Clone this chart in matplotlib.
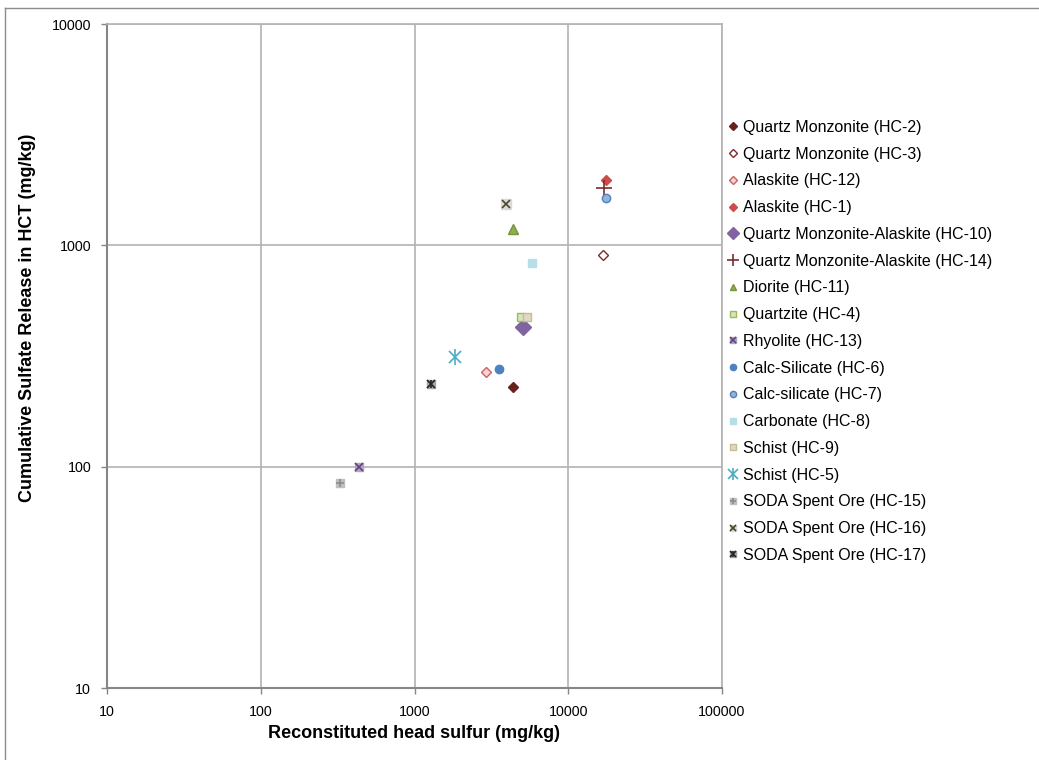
import matplotlib
matplotlib.use("Agg")
import matplotlib.pyplot as plt
from matplotlib.lines import Line2D
from matplotlib.legend_handler import HandlerTuple

plt.rcParams['font.family'] = ['Liberation Sans', 'DejaVu Sans']

labels = [
    "Quartz Monzonite (HC-2)", "Quartz Monzonite (HC-3)", "Alaskite (HC-12)",
    "Alaskite (HC-1)", "Quartz Monzonite-Alaskite (HC-10)",
    "Quartz Monzonite-Alaskite (HC-14)", "Diorite (HC-11)", "Quartzite (HC-4)",
    "Rhyolite (HC-13)", "Calc-Silicate (HC-6)", "Calc-silicate (HC-7)",
    "Carbonate (HC-8)", "Schist (HC-9)", "Schist (HC-5)",
    "SODA Spent Ore (HC-15)", "SODA Spent Ore (HC-16)", "SODA Spent Ore (HC-17)",
]
head_sulfur = [4400, 16900, 2920, 17700, 5040, 17150, 4400, 4940,
               432, 3550, 17700, 5830, 5350, 1825, 329, 3945, 1273]
sulfate_release = [230, 908, 268, 1980, 426, 1815, 1190, 476,
                   100, 275, 1630, 835, 476, 312, 84.7, 1538, 237]

# marker layers per series: (marker, size, face, edge, edgewidth)
styles = [
    [("D", 5, "#6b1f1f", "#6b1f1f", 1)],
    [("D", 5, "white", "#7b2c2c", 1)],
    [("D", 5, "#f7d4d4", "#d65c5c", 1)],
    [("D", 5, "#d04a48", "#d04a48", 1)],
    [("D", 8, "#8064a2", "#8064a2", 1)],
    [("+", 11, "#7b2c2c", "#7b2c2c", 1.2)],
    [("^", 6.5, "#8db04f", "#77933c", 1)],
    [("s", 6, "#d7e4bd", "#9bbb59", 1)],
    [("s", 6, "#b3a2c7", "#b3a2c7", 1), ("x", 5.5, "#5f497a", "#5f497a", 1.2)],
    [("o", 6, "#4f81bd", "#4f81bd", 1)],
    [("o", 6, "#95b3d7", "#4f81bd", 1)],
    [("s", 6, "#b7dee8", "#b7dee8", 1)],
    [("s", 6, "#ddd9c3", "#c4bd97", 1)],
    [("x", 9, "#4bacc6", "#4bacc6", 1.2), ("|", 12, "#4bacc6", "#4bacc6", 1.2)],
    [("s", 6, "#bfbfbf", "#bfbfbf", 1), ("+", 5.5, "#8c8c8c", "#8c8c8c", 1.2)],
    [("s", 6.5, "#d9d9d9", "#d9d9d9", 1), ("x", 5.5, "#4a452a", "#4a452a", 1.2)],
    [("s", 6, "#a6a6a6", "#a6a6a6", 1), ("x", 5.5, "#262626", "#262626", 1.2),
     ("|", 6, "#262626", "#262626", 1.2)],
]

W, H = 1039, 760
fig = plt.figure(figsize=(W / 100, H / 100), dpi=100)
ax = fig.add_axes([107.2 / W, 1 - 688 / H, (722 - 107.2) / W, (688 - 24.1) / H])

ax.set_xscale("log")
ax.set_yscale("log")
ax.set_xlim(10, 100000)
ax.set_ylim(10, 10000)

handles = []
for x, y, lab, st in zip(head_sulfur, sulfate_release, labels, styles):
    hs = []
    for (m, s, fc, ec, ew) in st:
        ax.plot([x], [y], linestyle="none", marker=m, markersize=s,
                markerfacecolor=fc, markeredgecolor=ec, markeredgewidth=ew,
                zorder=3)
        hs.append(Line2D([], [], linestyle="none", marker=m, markersize=s * 0.75,
                         markerfacecolor=fc, markeredgecolor=ec,
                         markeredgewidth=ew))
    handles.append(tuple(hs))

ax.grid(True, which="major", color="#b3b3b3", linewidth=1.2)
ax.set_axisbelow(True)
ax.minorticks_off()
ax.set_xticks([10, 100, 1000, 10000, 100000])
ax.set_xticklabels(["10", "100", "1000", "10000", "100000"])
ax.set_yticks([10, 100, 1000, 10000])
ax.set_yticklabels(["10", "100", "1000", "10000"])
ax.tick_params(axis="both", labelsize=10.3, color="#868686", length=4,
               width=1, direction="out")
ax.tick_params(axis="x", pad=8.5)
ax.tick_params(axis="y", pad=7.5)
for side in ["left", "bottom"]:
    ax.spines[side].set_color("#868686")
    ax.spines[side].set_linewidth(1.5)
for side in ["top", "right"]:
    ax.spines[side].set_color("#b3b3b3")
    ax.spines[side].set_linewidth(1.2)

fig.text(413.5 / W, 1 - 733 / H, "Reconstituted head sulfur (mg/kg)",
         fontsize=13, fontweight="bold", ha="center", va="center")
fig.text(28 / W, 1 - 318 / H, "Cumulative Sulfate Release in HCT (mg/kg)",
         fontsize=13, fontweight="bold", ha="center", va="center",
         rotation=90)

fig.legend(handles, labels, handler_map={tuple: HandlerTuple(ndivide=1, pad=0)},
           loc="upper left", bbox_to_anchor=(727.4 / W, 1 - 120 / H),
           frameon=False, fontsize=11.5, handlelength=0.7, handletextpad=0.28,
           labelspacing=0.735, borderpad=0, borderaxespad=0)

# outer chart border (top and left visible)
fig.add_artist(Line2D([5 / W, 1], [1 - 8 / H, 1 - 8 / H], color="#8c8c8c",
                      linewidth=1, transform=fig.transFigure))
fig.add_artist(Line2D([5 / W, 5 / W], [0, 1 - 8 / H], color="#8c8c8c",
                      linewidth=1, transform=fig.transFigure))

fig.savefig("out.png", dpi=100)
